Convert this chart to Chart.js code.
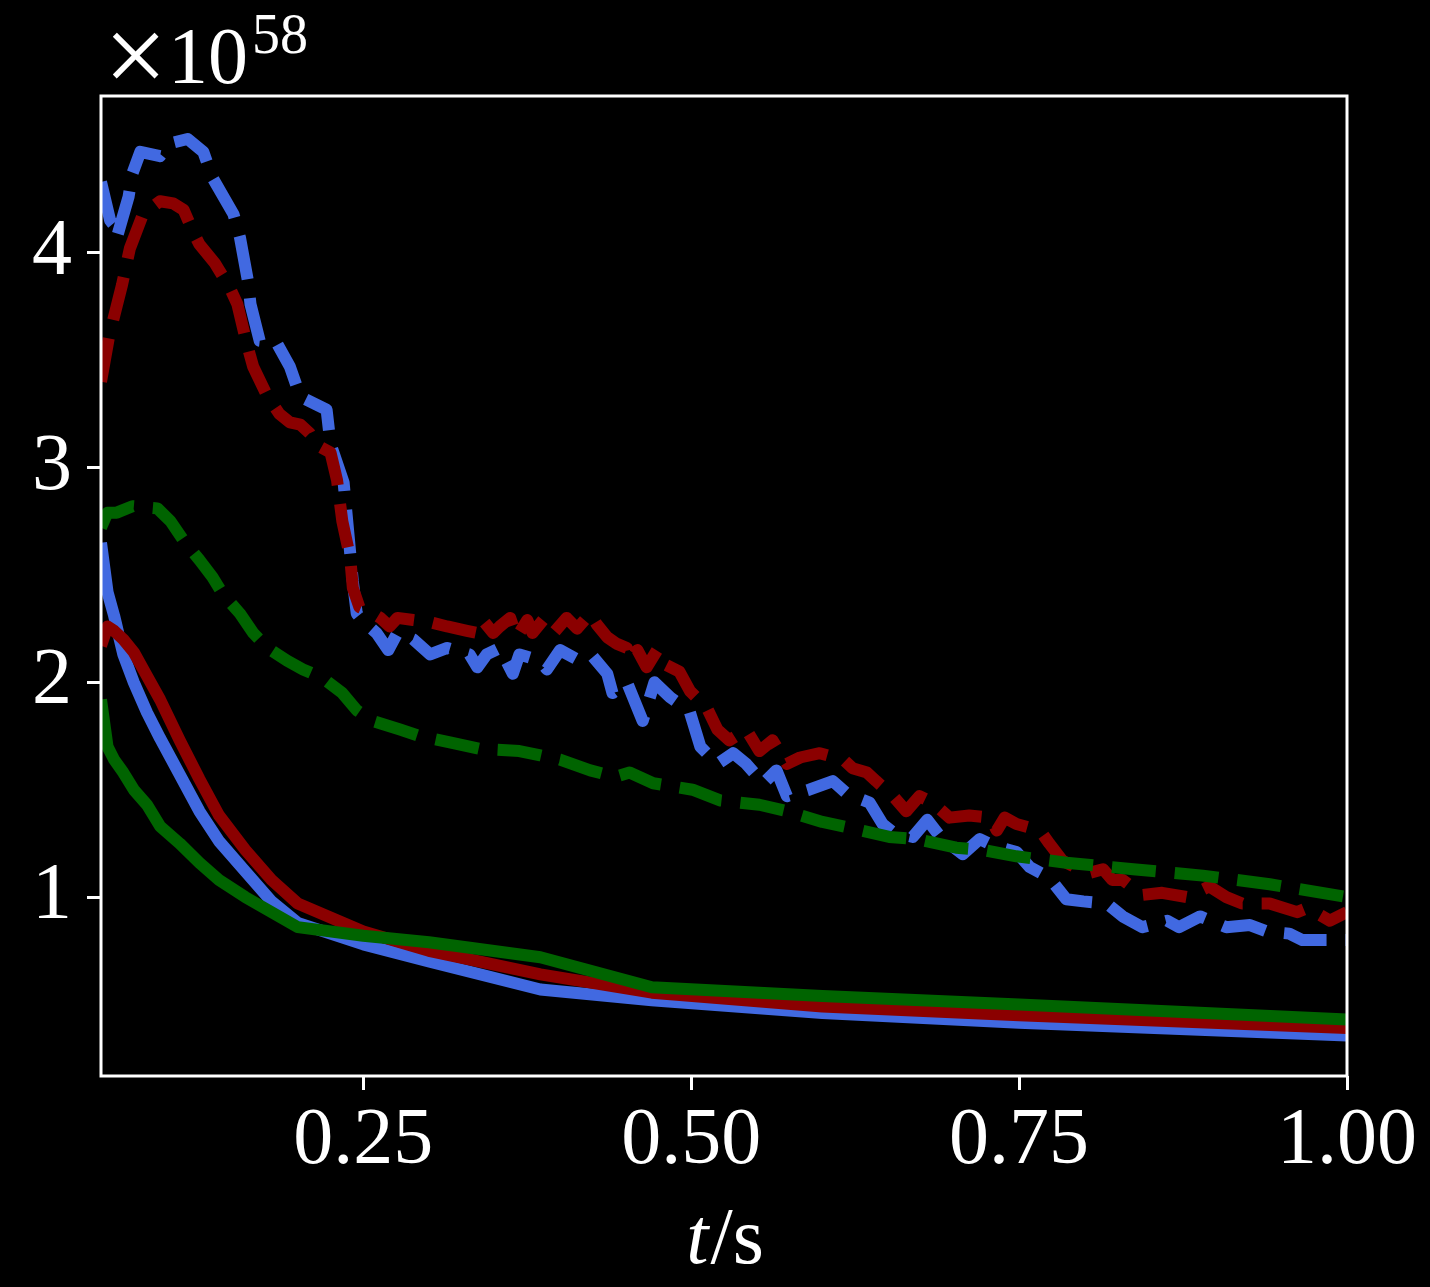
<!DOCTYPE html>
<html>
<head>
<meta charset="utf-8">
<script src="https://cdn.jsdelivr.net/npm/chart.js@4.4.1/dist/chart.umd.min.js"></script>
<style>
  html, body { margin: 0; padding: 0; background: #000; }
  canvas { display: block; }
</style>
</head>
<body>
<canvas id="c" width="1430" height="1287"></canvas>
<script>
// values in units of 1e58, time in s
var solidT = [0.05, 0.055, 0.06, 0.067, 0.075, 0.085, 0.095, 0.11, 0.125, 0.14, 0.16, 0.18, 0.2, 0.25, 0.3, 0.385, 0.47, 0.6, 0.75, 1.0];
var blueSolid = [2.65, 2.42, 2.31, 2.13, 2.00, 1.86, 1.74, 1.57, 1.40, 1.26, 1.12, 0.98, 0.88, 0.78, 0.70, 0.57, 0.52, 0.46, 0.415, 0.355];
var redSolid = [2.17, 2.26, 2.24, 2.20, 2.14, 2.03, 1.92, 1.73, 1.55, 1.38, 1.22, 1.08, 0.97, 0.84, 0.75, 0.64, 0.555, 0.49, 0.45, 0.39];
var greenSolid = [1.92, 1.70, 1.64, 1.58, 1.50, 1.43, 1.33, 1.25, 1.16, 1.08, 1.00, 0.93, 0.86, 0.82, 0.79, 0.72, 0.58, 0.54, 0.50, 0.43];

var blueDashT = [0.05, 0.057, 0.061, 0.062, 0.071, 0.074, 0.080, 0.095, 0.103, 0.116, 0.128, 0.135, 0.151, 0.156, 0.162, 0.164, 0.171, 0.184, 0.194, 0.202, 0.222, 0.225, 0.235, 0.242, 0.245, 0.249, 0.260, 0.269, 0.276, 0.288, 0.301, 0.314, 0.331, 0.337, 0.344, 0.354, 0.364, 0.369, 0.385, 0.390, 0.400, 0.415, 0.425, 0.436, 0.440, 0.451, 0.463, 0.472, 0.484, 0.491, 0.499, 0.507, 0.520, 0.532, 0.542, 0.555, 0.565, 0.573, 0.590, 0.608, 0.619, 0.636, 0.646, 0.654, 0.669, 0.680, 0.690, 0.707, 0.720, 0.730, 0.748, 0.758, 0.773, 0.786, 0.799, 0.817, 0.829, 0.844, 0.863, 0.872, 0.888, 0.908, 0.926, 0.939, 0.956, 0.966, 0.987, 1.0];
var blueDash = [4.33, 4.15, 4.12, 4.07, 4.26, 4.37, 4.47, 4.45, 4.51, 4.53, 4.47, 4.35, 4.18, 4.07, 3.87, 3.76, 3.59, 3.58, 3.47, 3.33, 3.27, 3.11, 2.93, 2.47, 2.32, 2.29, 2.23, 2.15, 2.23, 2.20, 2.13, 2.16, 2.13, 2.07, 2.13, 2.16, 2.04, 2.13, 2.10, 2.06, 2.15, 2.10, 2.12, 2.04, 1.95, 2.00, 1.82, 2.00, 1.93, 1.90, 1.86, 1.70, 1.62, 1.67, 1.62, 1.53, 1.59, 1.47, 1.50, 1.54, 1.48, 1.44, 1.34, 1.30, 1.28, 1.36, 1.28, 1.20, 1.27, 1.24, 1.21, 1.14, 1.09, 0.99, 0.98, 0.97, 0.91, 0.86, 0.89, 0.86, 0.91, 0.86, 0.87, 0.84, 0.83, 0.80, 0.80, 0.80];

var redDashT = [0.050, 0.057, 0.059, 0.066, 0.072, 0.082, 0.095, 0.105, 0.113, 0.120, 0.125, 0.137, 0.148, 0.154, 0.161, 0.166, 0.177, 0.186, 0.194, 0.202, 0.209, 0.213, 0.225, 0.230, 0.234, 0.240, 0.242, 0.247, 0.255, 0.263, 0.270, 0.276, 0.288, 0.301, 0.314, 0.329, 0.337, 0.341, 0.349, 0.354, 0.362, 0.367, 0.375, 0.379, 0.387, 0.395, 0.405, 0.413, 0.423, 0.428, 0.436, 0.443, 0.451, 0.453, 0.459, 0.466, 0.474, 0.478, 0.491, 0.499, 0.512, 0.520, 0.529, 0.542, 0.552, 0.562, 0.573, 0.583, 0.598, 0.616, 0.623, 0.634, 0.641, 0.654, 0.664, 0.674, 0.684, 0.697, 0.712, 0.728, 0.733, 0.739, 0.748, 0.766, 0.773, 0.783, 0.802, 0.814, 0.821, 0.829, 0.844, 0.859, 0.878, 0.895, 0.908, 0.920, 0.941, 0.962, 0.970, 0.987, 1.000];
var redDash = [3.40, 3.64, 3.68, 3.85, 4.02, 4.18, 4.24, 4.23, 4.20, 4.10, 4.04, 3.95, 3.84, 3.76, 3.58, 3.47, 3.33, 3.25, 3.21, 3.20, 3.16, 3.11, 3.07, 2.94, 2.75, 2.58, 2.44, 2.35, 2.33, 2.30, 2.26, 2.30, 2.29, 2.28, 2.26, 2.24, 2.23, 2.29, 2.23, 2.26, 2.30, 2.21, 2.29, 2.23, 2.29, 2.23, 2.30, 2.25, 2.32, 2.27, 2.21, 2.18, 2.16, 2.10, 2.15, 2.07, 2.15, 2.09, 2.05, 1.96, 1.88, 1.78, 1.73, 1.78, 1.68, 1.73, 1.62, 1.65, 1.67, 1.64, 1.60, 1.58, 1.54, 1.47, 1.40, 1.47, 1.44, 1.37, 1.38, 1.37, 1.31, 1.37, 1.34, 1.31, 1.25, 1.17, 1.11, 1.13, 1.08, 1.08, 1.01, 1.02, 1.00, 1.05, 1.00, 0.97, 0.97, 0.93, 0.95, 0.89, 0.93];

var greenDashT = [0.050, 0.055, 0.062, 0.074, 0.093, 0.103, 0.113, 0.125, 0.135, 0.143, 0.156, 0.166, 0.177, 0.192, 0.204, 0.219, 0.234, 0.245, 0.257, 0.278, 0.293, 0.316, 0.339, 0.369, 0.385, 0.400, 0.423, 0.442, 0.453, 0.471, 0.501, 0.522, 0.552, 0.573, 0.600, 0.623, 0.651, 0.672, 0.702, 0.722, 0.748, 0.786, 0.837, 0.890, 0.941, 1.000];
var greenDash = [2.72, 2.79, 2.79, 2.82, 2.81, 2.75, 2.66, 2.57, 2.49, 2.41, 2.32, 2.23, 2.16, 2.10, 2.06, 2.02, 1.95, 1.87, 1.82, 1.78, 1.75, 1.72, 1.69, 1.68, 1.66, 1.64, 1.59, 1.56, 1.58, 1.53, 1.50, 1.45, 1.43, 1.40, 1.35, 1.32, 1.28, 1.27, 1.23, 1.22, 1.19, 1.16, 1.13, 1.10, 1.06, 1.00];

var xTicks = [0.25, 0.50, 0.75, 1.00];
var yTicks = [1, 2, 3, 4];
var xMin = 0.05, xMax = 1.0, yMin = 0.167, yMax = 4.73;

var BLUE = "#4169E1", RED = "#8B0000", GREEN = "#006400";
var FONT = '"Liberation Serif", "DejaVu Serif", serif';

function pts(t, v) {
    return t.map(function (x, i) { return { x: x, y: v[i] }; });
}

function line(data, color, dashed, order) {
    return {
        data: data,
        borderColor: color,
        borderWidth: 12,
        borderDash: dashed ? [44, 19] : [],
        borderJoinStyle: "round",
        borderCapStyle: "butt",
        pointRadius: 0,
        tension: 0,
        clip: 0,
        order: order
    };
}

var bgPlugin = {
    id: "bg",
    beforeDraw: function (chart) {
        var ctx = chart.ctx;
        ctx.save();
        ctx.fillStyle = "#000";
        ctx.fillRect(0, 0, chart.width, chart.height);
        ctx.restore();
    }
};

var framePlugin = {
    id: "frame",
    afterDraw: function (chart) {
        var ctx = chart.ctx, a = chart.chartArea;
        ctx.save();
        ctx.strokeStyle = "#fff";
        ctx.lineWidth = 3;
        ctx.strokeRect(a.left, a.top, a.right - a.left, a.bottom - a.top);

        ctx.fillStyle = "#fff";
        ctx.textBaseline = "alphabetic";
        // offset text
        ctx.font = "112px " + FONT;
        ctx.fillText("\u00D7", 104, 93);
        ctx.font = "80px " + FONT;
        ctx.fillText("10", 168, 83);
        var w10 = ctx.measureText("10").width;
        ctx.font = "56px " + FONT;
        ctx.fillText("58", 168 + w10 + 4, 53);

        // x label: italic t, upright /s
        ctx.font = "italic 80px " + FONT;
        var wt = ctx.measureText("t").width;
        ctx.font = "80px " + FONT;
        var ws = ctx.measureText("/s").width;
        var cx = (a.left + a.right) / 2;
        var x0 = cx - (wt + ws) / 2;
        ctx.font = "italic 80px " + FONT;
        ctx.fillText("t", x0, 1263);
        ctx.font = "80px " + FONT;
        ctx.fillText("/s", x0 + wt + 2, 1263);
        ctx.restore();
    }
};

new Chart(document.getElementById("c"), {
    type: "line",
    data: {
        datasets: [
            line(pts(solidT, blueSolid), BLUE, false, 6),
            line(pts(solidT, redSolid), RED, false, 5),
            line(pts(solidT, greenSolid), GREEN, false, 4),
            line(pts(blueDashT, blueDash), BLUE, true, 3),
            line(pts(redDashT, redDash), RED, true, 2),
            line(pts(greenDashT, greenDash), GREEN, true, 1)
        ]
    },
    options: {
        responsive: false,
        animation: false,
        layout: { padding: { left: 0, right: 83, top: 96, bottom: 0 } },
        plugins: { legend: { display: false }, tooltip: { enabled: false } },
        scales: {
            x: {
                type: "linear",
                min: xMin,
                max: xMax,
                afterBuildTicks: function (s) { s.ticks = xTicks.map(function (v) { return { value: v }; }); },
                afterFit: function (s) { s.height = 211; },
                border: { display: false },
                grid: { drawOnChartArea: false, drawTicks: true, tickLength: 14, tickWidth: 3, tickColor: "#fff", color: "#fff" },
                ticks: {
                    color: "#fff",
                    padding: 4,
                    maxRotation: 0,
                    font: { family: FONT, size: 80 },
                    callback: function (v) { return v.toFixed(2); }
                }
            },
            y: {
                type: "linear",
                min: yMin,
                max: yMax,
                afterBuildTicks: function (s) { s.ticks = yTicks.map(function (v) { return { value: v }; }); },
                afterFit: function (s) { s.width = 101; },
                border: { display: false },
                grid: { drawOnChartArea: false, drawTicks: true, tickLength: 14, tickWidth: 3, tickColor: "#fff", color: "#fff" },
                ticks: {
                    color: "#fff",
                    padding: 15,
                    font: { family: FONT, size: 80 },
                    callback: function (v) { return String(v); }
                }
            }
        }
    },
    plugins: [bgPlugin, framePlugin]
});
</script>
</body>
</html>
